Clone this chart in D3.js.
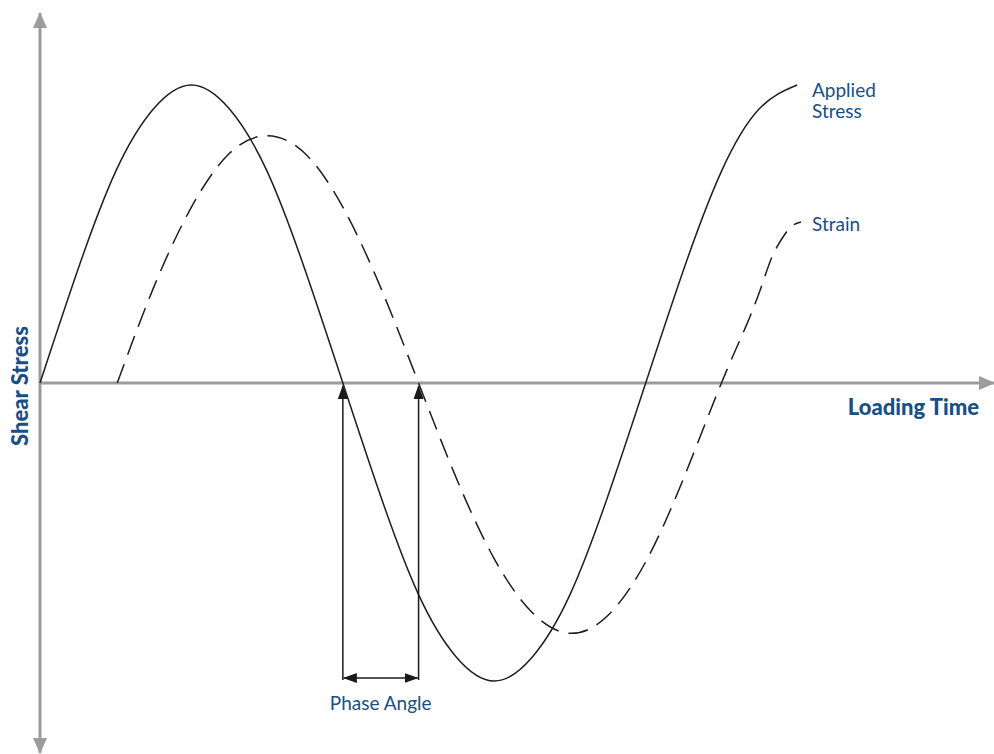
<!DOCTYPE html>
<html>
<head>
<meta charset="utf-8">
<script src="https://cdn.jsdelivr.net/npm/d3@7"></script>
<style>
  body { margin: 0; background: #fff; }
  text { font-family: Lato, "Open Sans", sans-serif; fill: #174f86; }
</style>
</head>
<body>
<div id="container"></div>
<script>
// time in eighth-periods, values relative to the stress amplitude
const stressTime = [0, 0.5, 1, 1.5, 2, 2.5, 3, 3.5, 4, 4.5, 5, 5.5, 6, 6.5, 7, 7.5, 8, 8.5, 9, 9.5, 10];
const stressValues = [0, 0.38, 0.71, 0.92, 1, 0.92, 0.71, 0.38, 0, -0.38, -0.71, -0.92, -1, -0.92, -0.71, -0.38, 0, 0.38, 0.71, 0.92, 1];

const strainTime = [1.02, 1.5, 2, 2.5, 3, 3.5, 4, 4.5, 5, 5.5, 6, 6.5, 7, 7.5, 8, 8.5, 9, 9.34, 9.55, 9.68, 9.84, 9.95, 10.05];
const strainValues = [0, 0.32, 0.59, 0.77, 0.83, 0.77, 0.59, 0.32, 0, -0.32, -0.59, -0.77, -0.84, -0.78, -0.6, -0.32, 0, 0.2, 0.34, 0.43, 0.5, 0.53, 0.54];

const phaseMarks = [4, 5];
const seriesLabels = [['Applied', 'Stress'], ['Strain']];
const axisLabels = { x: 'Loading Time', y: 'Shear Stress' };
const phaseLabel = 'Phase Angle';

const width = 994, height = 754;
const axisColor = '#9c9c9e';

const xScale = d3.scaleLinear().domain([0, 12.6]).range([40, 994]);
const yScale = d3.scaleLinear().domain([-1, 1]).range([681, 85]);

const svg = d3.select('#container')
    .append('svg')
    .attr('width', width)
    .attr('height', height);

const defs = svg.append('defs');
defs.append('marker')
    .attr('id', 'grey-arrow')
    .attr('viewBox', '0 0 16 14')
    .attr('refX', 15).attr('refY', 7)
    .attr('markerWidth', 16).attr('markerHeight', 14)
    .attr('markerUnits', 'userSpaceOnUse')
    .attr('orient', 'auto-start-reverse')
    .append('path')
    .attr('d', 'M0,0 L16,7 L0,14 Z')
    .attr('fill', axisColor);
defs.append('marker')
    .attr('id', 'black-arrow')
    .attr('viewBox', '0 0 14 10')
    .attr('refX', 13).attr('refY', 5)
    .attr('markerWidth', 14).attr('markerHeight', 10)
    .attr('markerUnits', 'userSpaceOnUse')
    .attr('orient', 'auto-start-reverse')
    .append('path')
    .attr('d', 'M0,0 L14,5 L0,10 Z')
    .attr('fill', '#1a1a1a');

const y0 = yScale(0);

// axes
svg.append('line')
    .attr('x1', xScale(0)).attr('x2', xScale(0))
    .attr('y1', 13).attr('y2', 753)
    .attr('stroke', axisColor).attr('stroke-width', 3)
    .attr('marker-start', 'url(#grey-arrow)')
    .attr('marker-end', 'url(#grey-arrow)');
svg.append('line')
    .attr('x1', xScale(0)).attr('x2', 994)
    .attr('y1', y0).attr('y2', y0)
    .attr('stroke', axisColor).attr('stroke-width', 3)
    .attr('marker-end', 'url(#grey-arrow)');

const line = d3.line()
    .x(d => xScale(d[0]))
    .y(d => yScale(d[1]))
    .curve(d3.curveNatural);

svg.append('path')
    .datum(d3.zip(stressTime, stressValues))
    .attr('fill', 'none')
    .attr('stroke', '#1e1e1e')
    .attr('stroke-width', 1.5)
    .attr('d', line);

svg.append('path')
    .datum(d3.zip(strainTime, strainValues))
    .attr('fill', 'none')
    .attr('stroke', '#1e1e1e')
    .attr('stroke-width', 1.5)
    .attr('stroke-dasharray', '20,10')
    .attr('d', line);

// phase angle markers
const armY = 678;
phaseMarks.forEach(t => {
    svg.append('line')
        .attr('x1', xScale(t)).attr('x2', xScale(t))
        .attr('y1', 680).attr('y2', y0 + 3)
        .attr('stroke', '#1a1a1a').attr('stroke-width', 1.5)
        .attr('marker-end', 'url(#black-arrow)');
});
svg.append('line')
    .attr('x1', xScale(phaseMarks[0]) + 1).attr('x2', xScale(phaseMarks[1]) - 1)
    .attr('y1', armY).attr('y2', armY)
    .attr('stroke', '#1a1a1a').attr('stroke-width', 1.5)
    .attr('marker-start', 'url(#black-arrow)')
    .attr('marker-end', 'url(#black-arrow)');

svg.append('text')
    .attr('x', (xScale(phaseMarks[0]) + xScale(phaseMarks[1])) / 2)
    .attr('y', 710)
    .attr('text-anchor', 'middle')
    .attr('font-size', 19)
    .text(phaseLabel);

// series labels
const labelPos = [[812, 97], [812, 231]];
seriesLabels.forEach((lines, i) => {
    const t = svg.append('text')
        .attr('x', labelPos[i][0])
        .attr('y', labelPos[i][1])
        .attr('font-size', 19);
    lines.forEach((s, j) => {
        t.append('tspan')
            .attr('x', labelPos[i][0])
            .attr('dy', j === 0 ? 0 : 21)
            .text(s);
    });
});

// axis titles
svg.append('text')
    .attr('x', 979).attr('y', 415)
    .attr('text-anchor', 'end')
    .attr('font-size', 22)
    .attr('font-weight', 900)
    .text(axisLabels.x);

svg.append('text')
    .attr('transform', 'translate(28,386) rotate(-90)')
    .attr('text-anchor', 'middle')
    .attr('font-size', 22)
    .attr('font-weight', 900)
    .text(axisLabels.y);
</script>
</body>
</html>
